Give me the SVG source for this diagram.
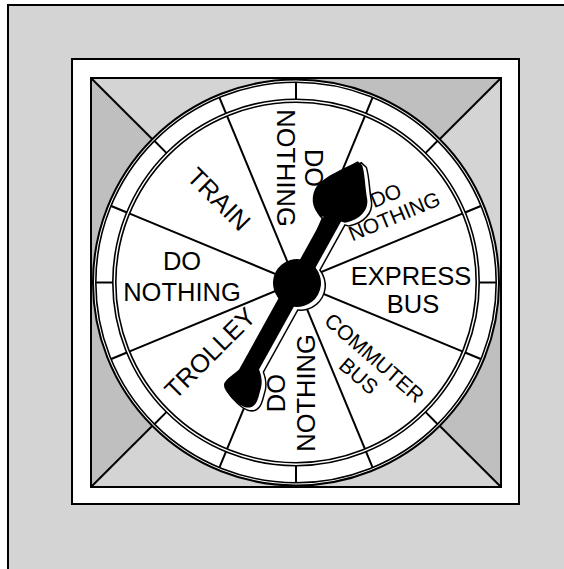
<svg xmlns="http://www.w3.org/2000/svg" xmlns:xlink="http://www.w3.org/1999/xlink" width="564" height="569" viewBox="0 0 564 569">
<style>
.ln{stroke:#000;stroke-width:2;fill:none}
.rg{stroke:#000;stroke-width:1.6;fill:none}
.lb{font-family:'Liberation Sans',Arial,sans-serif;font-size:25.5px;fill:#000;text-anchor:middle}
.sm{font-size:21px}
.lt{fill:#d4d4d4}
.dk{fill:#bfbfbf}
</style>
<defs>
<g id="ptr">
<circle cx="0" cy="0" r="24"/>
<rect x="-112" y="-8.75" width="192" height="17.5"/>
<path d="M70,-12 C72,-24 84,-31 95,-29.5 C108,-27 122,-15 136,-6 L134.5,0 C129,6 117,13 107,21 C99,27 86,25 76,13 Z"/>
<path d="M-94,8.75 C-100,16 -106,19 -112,20 C-120,22 -126,24 -131,20 C-136,15 -134,4 -131,-4 C-129,-10 -127,-14 -123,-15 C-117,-15 -110,-11 -104,-8.75 Z"/>
</g>
</defs>
<g id="frame">
<rect x="8" y="5" width="600" height="600" fill="#d4d4d4" stroke="#000" stroke-width="2"/>
<rect x="72" y="59" width="447" height="445" fill="#fff" stroke="#000" stroke-width="2"/>
</g>
<g id="base">
<polygon class="lt" points="91,78 296,78 296,282.5"/>
<polygon class="dk" points="296,78 501,78 296,282.5"/>
<polygon class="lt" points="501,78 501,282.5 296,282.5"/>
<polygon class="dk" points="501,282.5 501,487 296,282.5"/>
<polygon class="lt" points="501,487 91,487 296,282.5"/>
<polygon class="dk" points="91,487 91,78 296,282.5"/>
<line class="ln" x1="91" y1="78" x2="501" y2="487"/>
<line class="ln" x1="501" y1="78" x2="91" y2="487"/>
<rect x="91" y="78" width="410" height="409" class="ln"/>
</g>
<g id="wheel">
<circle cx="296" cy="282.5" r="203" fill="#fff" stroke="#000" stroke-width="2"/>
<circle cx="296" cy="282.5" r="200.2" class="rg"/>
<circle cx="296" cy="282.5" r="183.2" class="rg"/>
<circle cx="296" cy="282.5" r="180.2" class="rg"/>
<g transform="translate(296,282.5)" class="ln">
<line x1="183" y1="0" x2="200" y2="0" transform="rotate(0)"/>
<line x1="183" y1="0" x2="200" y2="0" transform="rotate(22.5)"/>
<line x1="183" y1="0" x2="200" y2="0" transform="rotate(45)"/>
<line x1="183" y1="0" x2="200" y2="0" transform="rotate(67.5)"/>
<line x1="183" y1="0" x2="200" y2="0" transform="rotate(90)"/>
<line x1="183" y1="0" x2="200" y2="0" transform="rotate(112.5)"/>
<line x1="183" y1="0" x2="200" y2="0" transform="rotate(135)"/>
<line x1="183" y1="0" x2="200" y2="0" transform="rotate(157.5)"/>
<line x1="183" y1="0" x2="200" y2="0" transform="rotate(180)"/>
<line x1="183" y1="0" x2="200" y2="0" transform="rotate(202.5)"/>
<line x1="183" y1="0" x2="200" y2="0" transform="rotate(225)"/>
<line x1="183" y1="0" x2="200" y2="0" transform="rotate(247.5)"/>
<line x1="183" y1="0" x2="200" y2="0" transform="rotate(270)"/>
<line x1="183" y1="0" x2="200" y2="0" transform="rotate(292.5)"/>
<line x1="183" y1="0" x2="200" y2="0" transform="rotate(315)"/>
<line x1="183" y1="0" x2="200" y2="0" transform="rotate(337.5)"/>
<line x1="-180" y1="0" x2="180" y2="0" transform="rotate(22.5)"/>
<line x1="-180" y1="0" x2="180" y2="0" transform="rotate(67.5)"/>
<line x1="-180" y1="0" x2="180" y2="0" transform="rotate(112.5)"/>
<line x1="-180" y1="0" x2="180" y2="0" transform="rotate(157.5)"/>
</g>
</g>
<g id="labels">
<g id="lbl-top" transform="translate(299,168) rotate(90)"><text class="lb" x="0" y="-6"><tspan>DO</tspan></text><text class="lb" x="0" y="22">NOTHING</text></g>
<g id="lbl-ur" transform="translate(390,206) rotate(-22.5)"><text class="lb sm" x="0" y="-4">DO</text><text class="lb sm" x="0" y="18.5">NOTHING</text></g>
<g id="lbl-express"><text class="lb" x="411" y="284.5">EXPRESS</text><text class="lb" x="413" y="313">BUS</text></g>
<g id="lbl-commuter" transform="translate(366.7,366.7) rotate(41)"><text class="lb sm" x="0" y="-4.5">COMMUTER</text><text class="lb sm" x="0" y="19.5">BUS</text></g>
<g id="lbl-bottom" transform="translate(290.75,393) rotate(-90)"><text class="lb" x="0" y="-6">DO</text><text class="lb" x="0" y="24.5">NOTHING</text></g>
<g id="lbl-trolley" transform="translate(210,353) rotate(-45)"><text class="lb" x="0" y="9">TROLLEY</text></g>
<g id="lbl-left"><text class="lb" x="182" y="270">DO</text><text class="lb" x="182" y="301">NOTHING</text></g>
<g id="lbl-train" transform="translate(219,199) rotate(45)"><text class="lb" x="0" y="9">TRAIN</text></g>
</g>
<g id="pointer">
<use xlink:href="#ptr" transform="translate(300.5,285.5) rotate(-61)" fill="#000" stroke="#000" stroke-width="3"/>
<use xlink:href="#ptr" transform="translate(300.5,285.5) rotate(-61)" fill="#fff"/>
<use xlink:href="#ptr" transform="translate(297,283) rotate(-61)" fill="#000"/>
</g>
</svg>
